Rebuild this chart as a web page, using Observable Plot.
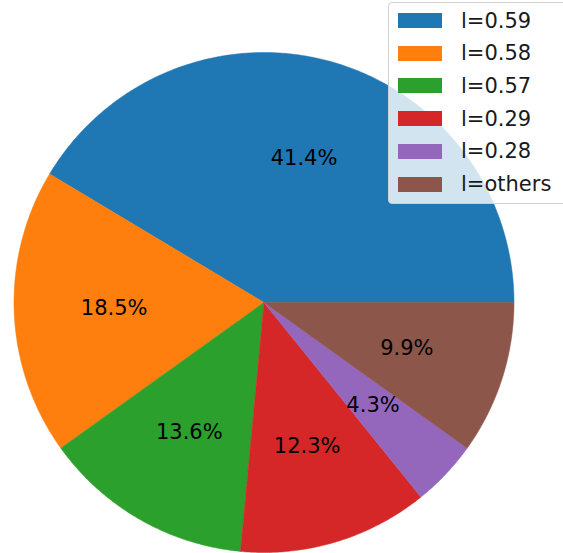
<!DOCTYPE html>
<html>
<head>
<meta charset="utf-8">
<script src="https://cdn.jsdelivr.net/npm/d3@7"></script>
<script src="https://cdn.jsdelivr.net/npm/@observablehq/plot@0.6"></script>
<style>
  html, body { margin: 0; padding: 0; background: #fff; overflow: hidden; }
  #wrap { position: relative; width: 563px; height: 553px; font-family: "DejaVu Sans", sans-serif; }
  #legend { position: absolute; left: 388px; top: 2px; width: 190px; height: 202px;
    background: rgba(255,255,255,0.8); border: 1px solid #d0d0d0; border-radius: 4px; box-sizing: border-box; }
  .row { position: absolute; left: 0; height: 30px; width: 190px; }
  .sw { position: absolute; left: 9px; top: 7.5px; width: 44px; height: 15px; }
  .lb { position: absolute; left: 72px; top: 0; line-height: 30px; font-size: 21px; color: #1a1a1a; white-space: nowrap; }
</style>
</head>
<body>
<div id="wrap"><div id="chart"></div><div id="legend"></div></div>
<script>
const labels = ["l=0.59", "l=0.58", "l=0.57", "l=0.29", "l=0.28", "l=others"];
const percents = [41.4, 18.5, 13.6, 12.3, 4.3, 9.9];
const colors = ["#1f77b4", "#ff7f0e", "#2ca02c", "#d62728", "#9467bd", "#8c564b"];

// build slice polygons (counterclockwise from 3 o'clock)
const total = d3.sum(percents);
const slices = [];
const texts = [];
let cum = 0;
percents.forEach((p, i) => {
  const a0 = cum / total * 2 * Math.PI;
  cum += p;
  const a1 = cum / total * 2 * Math.PI;
  const n = Math.max(2, Math.ceil((a1 - a0) / (Math.PI / 360)));
  slices.push({label: labels[i], x: 0, y: 0});
  for (let k = 0; k <= n; k++) {
    const a = a0 + (a1 - a0) * k / n;
    slices.push({label: labels[i], x: Math.cos(a), y: Math.sin(a)});
  }
  slices.push({label: labels[i], x: 0, y: 0});
  const am = (a0 + a1) / 2;
  texts.push({label: labels[i], text: p.toFixed(1) + "%", x: 0.6 * Math.cos(am), y: 0.6 * Math.sin(am)});
});

const chart = Plot.plot({
  width: 563,
  height: 553,
  margin: 0,
  x: {domain: [-1, 1], range: [13.5, 513.5], axis: null},
  y: {domain: [-1, 1], range: [552, 52], axis: null},
  color: {domain: labels, range: colors},
  style: {background: "transparent"},
  marks: [
    Plot.line(slices, {x: "x", y: "y", z: "label", fill: "label", stroke: "label", strokeWidth: 0.5, curve: "linear"}),
    Plot.text(texts, {x: "x", y: "y", text: "text", fontSize: 21, fontFamily: "DejaVu Sans", fill: "#000"})
  ]
});
document.getElementById("chart").appendChild(chart);

const legend = document.getElementById("legend");
labels.forEach((l, i) => {
  const row = document.createElement("div");
  row.className = "row";
  row.style.top = (17.5 + i * 32.7 - 15) + "px";
  const sw = document.createElement("div");
  sw.className = "sw";
  sw.style.background = colors[i];
  const lb = document.createElement("div");
  lb.className = "lb";
  lb.textContent = l;
  row.appendChild(sw);
  row.appendChild(lb);
  legend.appendChild(row);
});
</script>
</body>
</html>
